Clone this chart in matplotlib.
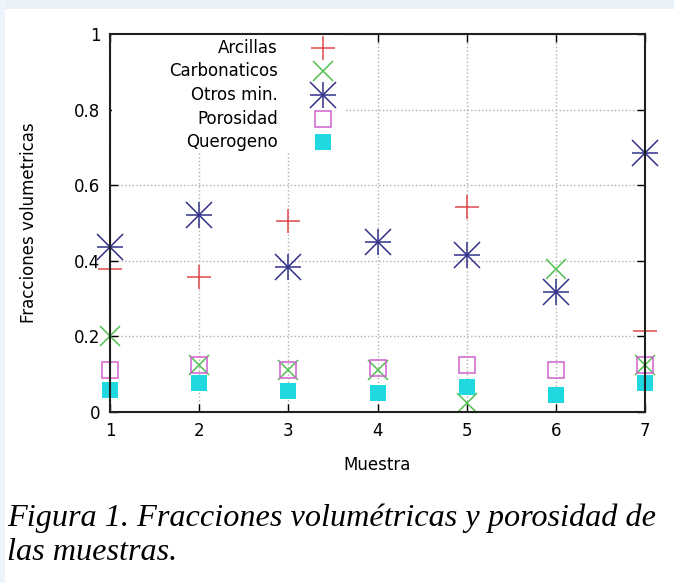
import matplotlib
matplotlib.use("Agg")
import matplotlib.pyplot as plt
from matplotlib.patches import Rectangle

# Datos (nan = punto que no se ve en la figura)
nan = float("nan")
muestras = [1, 2, 3, 4, 5, 6, 7]
arcillas = [0.378, 0.356, 0.505, nan, 0.542, nan, 0.213]
carbonaticos = [0.20, 0.125, 0.11, 0.11, 0.024, 0.378, 0.125]
otros_min = [0.436, 0.521, 0.383, 0.45, 0.415, 0.317, 0.686]
porosidad = [0.11, 0.125, 0.112, 0.117, 0.125, 0.112, 0.125]
querogeno = [0.058, 0.077, 0.056, 0.05, 0.067, 0.045, 0.077]

nombres = ["Arcillas", "Carbonaticos", "Otros min.", "Porosidad", "Querogeno"]
colores = ["#e04848", "#50c050", "#30308a", "#d060d0", "#20d8e0"]

plt.rcParams['font.family'] = ['DejaVu Sans']

fig = plt.figure(figsize=(6.74, 5.83), dpi=100)
ax = fig.add_axes([110/674, 1 - 412/583, 535/674, 378/583])

# franja azul clara arriba (fondo de la pagina)
fig.patches.append(Rectangle((0, 1 - 9/583), 1, 9/583, transform=fig.transFigure,
                             facecolor="#e8f0f8", edgecolor="none", zorder=0))
fig.patches.append(Rectangle((0, 0), 5/674, 1, transform=fig.transFigure,
                             facecolor="#eef4fb", edgecolor="none", zorder=0))

kw = dict(ls="none", clip_on=False, zorder=3)
ax.plot(muestras, arcillas, marker="+", ms=17, mew=1.1, color=colores[0], **kw)
ax.plot(muestras, carbonaticos, marker="x", ms=15, mew=1.1, color=colores[1], **kw)
ax.plot(muestras, otros_min, marker="+", ms=19, mew=1.1, color=colores[2], **kw)
ax.plot(muestras, otros_min, marker="x", ms=19, mew=1.1, color=colores[2], **kw)
ax.plot(muestras, porosidad, marker="s", ms=12, mew=1.1, mfc="none", color=colores[3], **kw)
ax.plot(muestras, querogeno, marker="s", ms=12, mew=0, color=colores[4], **kw)

ax.set_xlim(1, 7)
ax.set_ylim(0, 1)
ax.set_xticks(muestras)
ax.set_yticks([0, 0.2, 0.4, 0.6, 0.8, 1])
ax.set_yticklabels(["0", "0.2", "0.4", "0.6", "0.8", "1"])
ax.tick_params(direction="in", length=6, width=1, top=True, right=True, labelsize=12, pad=7)
ax.grid(True, ls=":", color="#b0b0b0", lw=1)
for s in ax.spines.values():
    s.set_linewidth(1.5)
    s.set_color("#202020")
    s.set_zorder(3.5)

ax.set_xlabel("Muestra", fontsize=12, labelpad=12)
ax.set_ylabel("Fracciones volumetricas", fontsize=12, labelpad=26)

# leyenda estilo gnuplot (texto a la derecha, marcador despues)
ax.add_patch(Rectangle((0.003, 0.685), 0.437, 0.312, transform=ax.transAxes,
                       facecolor="white", edgecolor="none", zorder=2.5))
marcas = [("+", 17, colores[0], "full"), ("x", 15, colores[1], "full"),
          ("*", 19, colores[2], "full"), ("s", 12, colores[3], "none"),
          ("s", 12, colores[4], "full")]
for i, nombre in enumerate(nombres):
    yy = 0.963 - i * 0.0622
    ax.text(0.314, yy, nombre, transform=ax.transAxes, ha="right", va="center",
            fontsize=12, zorder=4)
    m, ms, c, fill = marcas[i]
    if m == "*":
        ax.plot([0.398], [yy], transform=ax.transAxes, ls="none", marker="+", ms=ms, mew=1.1, color=c, zorder=4)
        ax.plot([0.398], [yy], transform=ax.transAxes, ls="none", marker="x", ms=ms, mew=1.1, color=c, zorder=4)
    elif fill == "none":
        ax.plot([0.398], [yy], transform=ax.transAxes, ls="none", marker=m, ms=ms, mew=1.1, mfc="none", color=c, zorder=4)
    else:
        ax.plot([0.398], [yy], transform=ax.transAxes, ls="none", marker=m, ms=ms, mew=1.1 if m != "s" else 0, color=c, zorder=4)

fig.text(7/674, 1 - 518/583, "Figura 1. Fracciones volumétricas y porosidad de",
         family="Liberation Serif", style="italic", fontsize=23.2, va="center", ha="left")
fig.text(7/674, 1 - 553/583, "las muestras.",
         family="Liberation Serif", style="italic", fontsize=23.2, va="center", ha="left")

fig.savefig("out.png", dpi=100)
